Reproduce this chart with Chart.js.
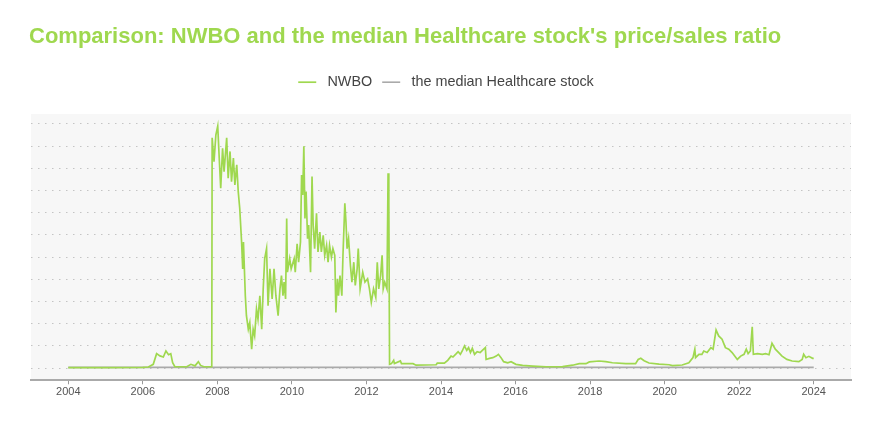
<!DOCTYPE html>
<html>
<head>
<meta charset="utf-8">
<script src="https://cdn.jsdelivr.net/npm/chart.js@4.4.1/dist/chart.umd.min.js"></script>
<style>
  html, body { margin: 0; padding: 0; background: #fff; }
  #wrap { width: 880px; height: 440px; }
</style>
</head>
<body>
<div id="wrap"><canvas id="myChart"></canvas></div>
<script>
// price/sales ratio (y labels are not shown in the original)
const nwboYears = [
  2004.00, 2005.00, 2006.00, 2006.15, 2006.28, 2006.37, 2006.46, 2006.55, 2006.62, 2006.69,
  2006.75, 2006.80, 2006.86, 2007.18, 2007.29, 2007.40, 2007.49, 2007.55, 2007.64, 2007.85,
  2007.86, 2007.91, 2007.96, 2008.01, 2008.05, 2008.09, 2008.14, 2008.18, 2008.25, 2008.29,
  2008.34, 2008.38, 2008.43, 2008.47, 2008.52, 2008.56, 2008.60, 2008.65, 2008.68, 2008.70,
  2008.75, 2008.78, 2008.83, 2008.87, 2008.92, 2008.96, 2009.00, 2009.05, 2009.09, 2009.14,
  2009.19, 2009.23, 2009.27, 2009.32, 2009.36, 2009.41, 2009.47, 2009.52, 2009.57, 2009.63,
  2009.68, 2009.72, 2009.76, 2009.79, 2009.83, 2009.86, 2009.88, 2009.94, 2009.98, 2010.06,
  2010.09, 2010.14, 2010.18, 2010.23, 2010.26, 2010.29, 2010.32, 2010.35, 2010.38, 2010.42,
  2010.45, 2010.50, 2010.54, 2010.57, 2010.61, 2010.66, 2010.70, 2010.75, 2010.79, 2010.84,
  2010.88, 2010.93, 2010.97, 2011.01, 2011.06, 2011.10, 2011.15, 2011.18, 2011.22, 2011.25,
  2011.29, 2011.34, 2011.37, 2011.42, 2011.45, 2011.48, 2011.52, 2011.57, 2011.61, 2011.66,
  2011.70, 2011.75, 2011.78, 2011.83, 2011.90, 2011.96, 2012.03, 2012.08, 2012.13, 2012.19,
  2012.25, 2012.29, 2012.33, 2012.38, 2012.42, 2012.45, 2012.49, 2012.55, 2012.58, 2012.60,
  2012.62, 2012.67, 2012.73, 2012.75, 2012.91, 2012.94, 2013.25, 2013.33, 2013.87, 2013.90,
  2014.09, 2014.18, 2014.27, 2014.32, 2014.41, 2014.46, 2014.52, 2014.57, 2014.63, 2014.69,
  2014.74, 2014.79, 2014.84, 2014.90, 2014.97, 2015.05, 2015.11, 2015.19, 2015.21, 2015.30,
  2015.39, 2015.48, 2015.54, 2015.61, 2015.68, 2015.79, 2015.88, 2016.01, 2016.19, 2016.46,
  2016.82, 2017.26, 2017.53, 2017.71, 2017.89, 2017.98, 2018.24, 2018.42, 2018.60, 2018.96,
  2019.22, 2019.29, 2019.36, 2019.45, 2019.58, 2019.85, 2020.12, 2020.21, 2020.47, 2020.65,
  2020.76, 2020.81, 2020.83, 2020.92, 2021.00, 2021.05, 2021.14, 2021.24, 2021.30, 2021.38,
  2021.45, 2021.54, 2021.63, 2021.72, 2021.81, 2021.95, 2022.04, 2022.13, 2022.19, 2022.24,
  2022.30, 2022.35, 2022.38, 2022.49, 2022.62, 2022.71, 2022.80, 2022.88, 2022.97, 2023.06,
  2023.15, 2023.28, 2023.42, 2023.60, 2023.69, 2023.73, 2023.79, 2023.87, 2023.97, 2024.00
];
const nwboValues = [
  2, 2, 3, 5, 17, 65, 55, 50, 77, 60,
  65, 24, 6, 6, 17, 10, 29, 12, 6, 6,
  1037, 930, 1050, 1090, 946, 810, 990, 885, 1037, 855,
  976, 840, 946, 825, 916, 795, 720, 568, 447, 568,
  326, 236, 175, 205, 85, 175, 145, 266, 220, 326,
  175, 357, 493, 538, 281, 447, 311, 447, 326, 236,
  357, 417, 326, 387, 311, 674, 432, 493, 447, 493,
  432, 560, 477, 568, 870, 780, 999, 674, 795, 583,
  644, 432, 863, 644, 538, 697, 523, 613, 523, 598,
  508, 553, 477, 553, 500, 538, 508, 251, 402, 326,
  417, 326, 508, 742, 659, 538, 583, 462, 387, 477,
  372, 447, 538, 357, 432, 387, 402, 357, 296, 357,
  319, 477, 357, 417, 508, 357, 387, 357, 878, 750,
  17, 20, 35, 20, 32, 20, 20, 13, 15, 22,
  22, 35, 54, 50, 65, 74, 62, 77, 100, 80,
  92, 70, 89, 62, 74, 70, 80, 92, 39, 44,
  47, 54, 62, 47, 29, 24, 29, 17, 12, 9,
  6, 7, 13, 20, 20, 28, 32, 29, 24, 20,
  20, 39, 44, 33, 23, 18, 15, 11, 14, 24,
  47, 85, 47, 62, 62, 77, 70, 92, 85, 172,
  145, 130, 92, 85, 70, 39, 54, 62, 85, 65,
  77, 186, 62, 65, 62, 65, 60, 112, 85, 70,
  54, 39, 32, 29, 39, 62, 47, 53, 44, 44
];
const medianYears = [2004, 2008, 2012, 2016, 2020, 2024];
const medianValues = [3, 3, 3, 3, 3, 3];
const tickYears = [2004, 2006, 2008, 2010, 2012, 2014, 2016, 2018, 2020, 2022, 2024];

const GREEN = '#9fd84f';
const GREY = '#aaaaaa';
const FONT = 'Liberation Sans, Arial, sans-serif';

const pts = (xs, ys) => xs.map((x, i) => ({ x: x, y: ys[i] }));

// grey plot background
const plotBg = {
  id: 'plotBg',
  beforeDraw(chart) {
    const a = chart.chartArea, c = chart.ctx;
    c.save();
    c.fillStyle = '#f7f7f7';
    c.fillRect(a.left, a.top, a.right - a.left, a.bottom - a.top);
    c.restore();
  }
};
// extra room under the legend, and nudge it a bit to the right
const legendGap = {
  id: 'legendGap',
  beforeInit(chart) {
    const fit = chart.legend.fit;
    chart.legend.fit = function () { fit.call(this); this.height += 14.5; };
  },
  afterLayout(chart) {
    chart.legend.left += 6;
    chart.legend.right += 6;
  }
};

new Chart(document.getElementById('myChart'), {
  type: 'line',
  data: {
    datasets: [
      { label: 'NWBO', data: pts(nwboYears, nwboValues), borderColor: GREEN, backgroundColor: GREEN,
        borderWidth: 1.7, pointRadius: 0, tension: 0 },
      { label: 'the median Healthcare stock', data: pts(medianYears, medianValues), borderColor: GREY,
        backgroundColor: GREY, borderWidth: 1.6, pointRadius: 0, tension: 0 }
    ]
  },
  options: {
    responsive: true,
    maintainAspectRatio: false,
    animation: false,
    layout: { padding: { left: 29, right: 29, top: 0, bottom: 40.5 } },
    plugins: {
      title: {
        display: true,
        text: "Comparison: NWBO and the median Healthcare stock's price/sales ratio",
        align: 'start',
        color: GREEN,
        font: { family: FONT, size: 22, weight: 'bold' },
        padding: { top: 24, bottom: 14.6 }
      },
      legend: {
        labels: {
          usePointStyle: true, pointStyle: 'line', pointStyleWidth: 18,
          color: '#444', padding: 10,
          font: { family: FONT, size: 14.4 },
          generateLabels: chart => {
            const items = Chart.defaults.plugins.legend.labels.generateLabels(chart);
            items.forEach(it => { it.text = ' ' + it.text; });
            return items;
          }
        }
      },
      tooltip: { enabled: false }
    },
    scales: {
      x: {
        type: 'linear', min: 2003, max: 2025,
        afterBuildTicks: s => { s.ticks = tickYears.map(v => ({ value: v })); },
        ticks: { callback: v => String(v), color: '#555', padding: 1,
          font: { family: FONT, size: 11 } },
        grid: { drawOnChartArea: false, tickLength: 4, color: '#999' },
        border: { color: '#aaa', width: 2 }
      },
      y: {
        min: -55, max: 1145,
        afterBuildTicks: s => {
          const t = [];
          for (let v = 0; v <= 1100; v += 100) t.push({ value: v });
          s.ticks = t;
        },
        afterFit: s => { s.width = 2; },
        ticks: { display: false },
        grid: { color: '#c4c4c4', lineWidth: 1, drawTicks: false },
        border: { display: false, dash: [1.5, 5.5] }
      }
    }
  },
  plugins: [plotBg, legendGap]
});
</script>
</body>
</html>
